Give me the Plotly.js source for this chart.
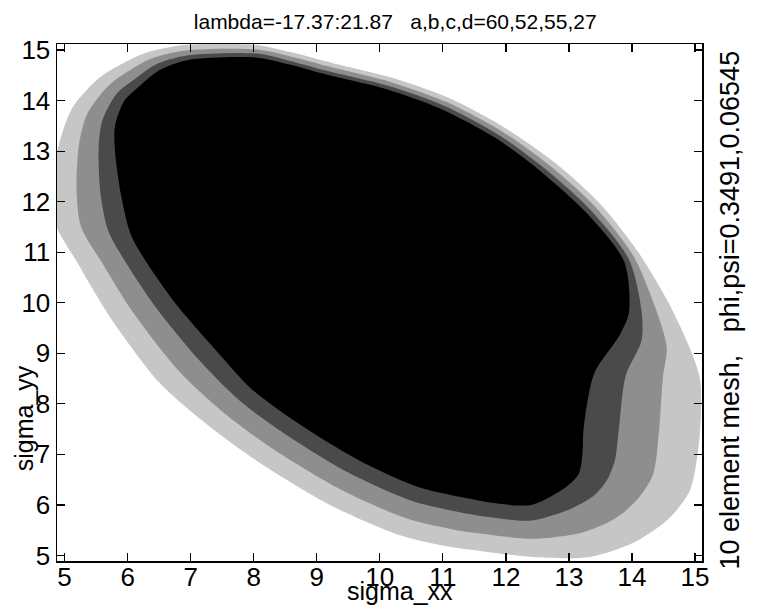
<!DOCTYPE html>
<html>
<head>
<meta charset="utf-8">
<script src="https://cdn.plot.ly/plotly-3.0.1.min.js"></script>
<style>html,body{margin:0;padding:0;background:#fff;}#chart{width:760px;height:607px;}</style>
</head>
<body>
<div id="chart"></div>
<script>
// Iso-shade contours of the shaded region (sigma_xx, sigma_yy)
const outerX = [15.08,15.08,14.95,14.6,14.1,13.5,12.8,12.0,11.1,10.2,9.26,8.58,8.05,6.9,6.3,5.93,5.56,5.13,4.93,4.80,4.84,5.20,5.72,6.51,7.31,8.10,9.21,10.32,11.11,11.64,12.43,13.33,14.02,14.56,14.92];
const outerY = [7.48,8.47,9.0,9.95,11.0,11.95,12.75,13.45,14.05,14.45,14.74,14.96,15.10,15.10,14.95,14.74,14.46,13.87,13.22,12.3,11.6,10.8,9.72,8.41,7.54,6.83,6.0,5.40,5.17,5.08,4.97,4.97,5.25,5.70,6.29];
const ring2X = [14.43,14.49,14.55,14.37,14.02,13.43,12.73,11.95,11.06,10.17,9.24,8.57,8.05,6.92,6.37,6.02,5.70,5.36,5.23,5.19,5.26,5.59,6.08,6.82,7.54,8.29,9.37,10.43,11.18,11.68,12.42,13.20,13.72,14.08,14.33];
const ring2Y = [7.48,8.52,9.12,9.90,10.93,11.88,12.68,13.38,13.97,14.37,14.66,14.88,15.01,14.99,14.83,14.59,14.30,13.74,13.14,12.23,11.51,10.80,9.82,8.64,7.81,7.12,6.31,5.73,5.51,5.42,5.33,5.45,5.72,6.10,6.59];
const ring3X = [13.79,13.90,14.15,14.15,13.95,13.36,12.66,11.90,11.02,10.14,9.22,8.56,8.05,6.94,6.44,6.12,5.83,5.60,5.54,5.57,5.69,5.97,6.44,7.13,7.77,8.49,9.53,10.53,11.25,11.72,12.41,13.06,13.41,13.61,13.73];
const ring3Y = [7.48,8.56,9.25,9.85,10.86,11.81,12.61,13.31,13.90,14.29,14.57,14.79,14.93,14.89,14.71,14.43,14.14,13.61,13.07,12.16,11.43,10.80,9.92,8.87,8.07,7.41,6.62,6.07,5.86,5.76,5.69,5.94,6.20,6.51,6.89];
const coreX = [13.23,13.4,13.8,13.95,13.88,13.3,12.6,11.85,10.98,10.12,9.2,8.55,8.05,6.95,6.5,6.2,5.95,5.8,5.8,5.9,6.05,6.3,6.75,7.4,7.96,8.65,9.66,10.62,11.31,11.75,12.4,12.95,13.15,13.2,13.22];
const coreY = [7.48,8.6,9.35,9.8,10.8,11.75,12.55,13.25,13.83,14.22,14.5,14.72,14.85,14.8,14.6,14.3,14.0,13.5,13.0,12.1,11.35,10.8,10.0,9.06,8.3,7.66,6.89,6.35,6.15,6.05,6.0,6.35,6.6,6.85,7.15];
const ringColors = ['#c6c6c6', '#8e8e8e', '#4a4a4a', '#000000'];
const tickVals = [5,6,7,8,9,10,11,12,13,14,15];
const titleText = 'lambda=-17.37:21.87   a,b,c,d=60,52,55,27';
const xLabel = 'sigma_xx';
const yLabel = 'sigma_yy';
const rightLabel = '10 element mesh,   phi,psi=0.3491,0.06545';

function closed(a){ return a.concat([a[0]]); }
const rings = [[outerX,outerY],[ring2X,ring2Y],[ring3X,ring3Y],[coreX,coreY]];
const traces = rings.map((r,i)=>({
  type:'scatter', mode:'lines', x:closed(r[0]), y:closed(r[1]),
  fill:'toself', fillcolor:ringColors[i],
  line:{width:0, shape:'spline', smoothing:0.8, color:ringColors[i]},
  hoverinfo:'skip', showlegend:false
}));

const FONT = '"Liberation Sans", Arial, Helvetica, sans-serif';
const tickFont = {family:FONT, size:26, color:'#000'};
const axisCommon = {
  tickvals: tickVals, ticks:'inside', ticklen:8, tickwidth:1.2, tickcolor:'#000',
  showline:true, linecolor:'#000', linewidth:1.5, mirror:'allticks',
  showgrid:false, zeroline:false, tickfont:tickFont
};
const layout = {
  width:760, height:607,
  margin:{l:57, r:58, t:44, b:46},
  paper_bgcolor:'#fff', plot_bgcolor:'#fff',
  title:{text:titleText, font:{family:FONT, size:21, color:'#000'}, x:0.52, xanchor:'center', y:0.965, yanchor:'middle'},
  xaxis:Object.assign({range:[4.88,15.11], ticklabelstandoff:-8}, axisCommon),
  yaxis:Object.assign({range:[4.89,15.12], ticklabelstandoff:0}, axisCommon),
  annotations:[
    {text:xLabel, xref:'paper', yref:'paper', x:0.532, y:-0.058, showarrow:false, xanchor:'center', yanchor:'middle',
     font:{family:FONT, size:25, color:'#000'}},
    {text:yLabel, xref:'paper', yref:'paper', x:-0.052, y:0.277, showarrow:false, textangle:-90, xanchor:'center', yanchor:'middle',
     font:{family:FONT, size:25, color:'#000'}},
    {text:rightLabel, xref:'paper', yref:'paper', x:1.043, y:0.486, showarrow:false, textangle:-90, xanchor:'center', yanchor:'middle',
     font:{family:FONT, size:27, color:'#000'}}
  ]
};
Plotly.newPlot('chart', traces, layout, {displayModeBar:false, staticPlot:true});
</script>
</body>
</html>
